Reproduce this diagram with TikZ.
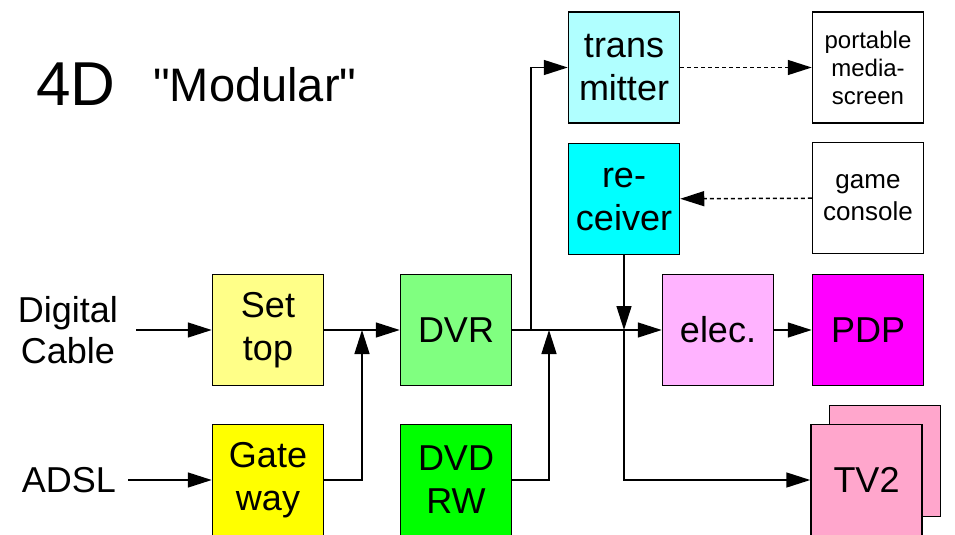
\documentclass[tikz,border=0pt]{standalone}
\usepackage{fontspec}
\setmainfont{Liberation Sans}[Ligatures=TeXOff]
\usepackage{tikz}
\usetikzlibrary{arrows.meta,positioning}
\definecolor{settopbg}{HTML}{FFFF88}
\definecolor{gatebg}{HTML}{FFFF00}
\definecolor{dvrbg}{HTML}{80FF80}
\definecolor{dvdbg}{HTML}{00FF00}
\definecolor{transbg}{HTML}{B0FFFF}
\definecolor{recvbg}{HTML}{00FFFF}
\definecolor{elecbg}{HTML}{FFB3FF}
\definecolor{pdpbg}{HTML}{FF00FF}
\definecolor{tvbg}{HTML}{FFA6CC}
\begin{document}
\begin{tikzpicture}[x=1pt,y=-1pt,
  box/.style={draw=black,line width=1.5pt,minimum width=111pt,minimum height=111pt,
              inner sep=0pt,align=center,font=\fontsize{36}{43}\selectfont},
  smallbox/.style={box,font=\fontsize{24}{28}\selectfont},
  lbl/.style={align=center,inner sep=0pt,font=\fontsize{36}{41}\selectfont},
  arr/.style={-{Triangle[length=24pt,width=15pt]},line width=1.5pt},
  dotarr/.style={arr,dash pattern=on 4pt off 3pt}]
\useasboundingbox (0,0) rectangle (955,535);

% title
\node[anchor=base west,inner sep=0pt,font=\fontsize{62}{70}\selectfont] (num) at (36,105) {4D};
\node[anchor=base west,inner sep=0pt,font=\fontsize{47}{54}\selectfont] (title) at (153,101) {"Modular"};

% inputs
\node[lbl] (cable) at (68,330) {Digital\\Cable};
\node[lbl] (adsl) at (69,480) {ADSL};

% boxes
\node[box,fill=settopbg] (settop) at (268,330) {Set\\top};
\node[box,fill=gatebg] (gateway) at (268,480) {Gate\\way};
\node[box,fill=dvrbg] (dvr) at (456,330) {DVR};
\node[box,fill=dvdbg] (dvd) at (456,480) {DVD\\RW};
\node[box,fill=transbg] (trans) at (624,67.5) {trans\\mitter};
\node[box,fill=recvbg] (receiver) at (624,199) {re-\\ceiver};
\node[box,fill=elecbg] (elec) at (718,330) {elec.};
\node[box,fill=pdpbg] (pdp) at (868,330) {PDP};
\node[smallbox,fill=white] (portable) at (868,67.5) {portable\\media-\\screen};
\node[box,fill=white,font=\fontsize{26}{32}\selectfont] (game) at (868,198) {game\\console};
\node[box,fill=tvbg] (tvback) at (885,461) {};
\node[box,fill=tvbg] (tv) at (866.5,480) {TV2};

% junctions
\coordinate (j1) at (362,330);
\coordinate (j2) at (531,330);
\coordinate (j3) at (549,330);
\coordinate (j4) at (624,330);

\draw[arr,shorten <=18pt] (cable) -- (settop);
\draw[arr,shorten <=12pt] (adsl) -- (gateway);
\draw[arr] (settop) -- (dvr);
\draw[arr] (gateway) -| (j1);
\draw[arr] (dvr) -- (elec);
\draw[arr] (j2) |- (trans);
\draw[arr] (dvd) -| (j3);
\draw[arr] (receiver) -- (j4);
\draw[arr] (j4) |- (tv);
\draw[arr] (elec) -- (pdp);
\draw[dotarr] (trans) -- (portable);
\draw[dotarr] (game) -- (receiver);
\end{tikzpicture}
\end{document}
